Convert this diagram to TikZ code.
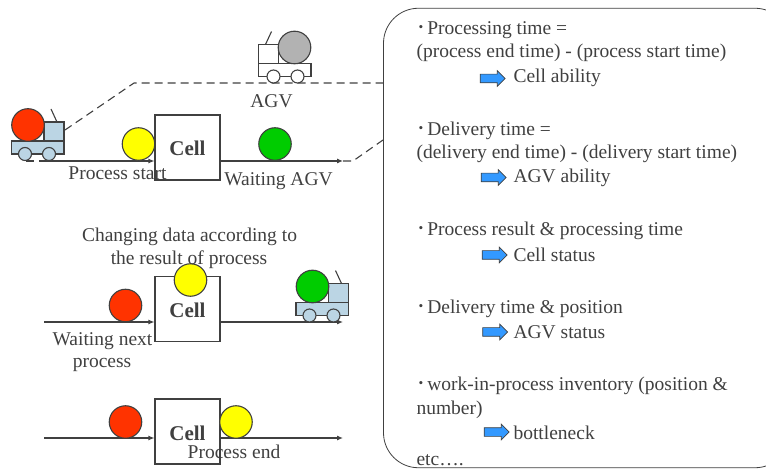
\documentclass[tikz,border=0pt]{standalone}
\usepackage{fontspec}
\setmainfont{Liberation Serif}
\newfontfamily\cjk{Noto Sans CJK JP}
\usepackage{xcolor}
\usetikzlibrary{positioning,shapes.arrows,arrows.meta}
\definecolor{inkgray}{HTML}{404040}
\definecolor{partred}{HTML}{FF3300}
\definecolor{partyellow}{HTML}{FFFF00}
\definecolor{partgreen}{HTML}{00CC00}
\definecolor{emptygray}{HTML}{B2B2B2}
\definecolor{agvblue}{HTML}{BBD5E4}
\definecolor{hintblue}{HTML}{3399FF}
\newcommand{\dotmark}{{\cjk ･}\kern1pt}

\begin{document}
\begin{tikzpicture}[
        x=1pt, y=-1pt,
        >={Latex[length=6pt,width=5pt]},
        line width=1.1pt,
        every node/.style={text=inkgray},
        part/.style={circle, draw=inkgray, minimum size=32.5pt, inner sep=0pt},
        cell/.style={draw=inkgray, fill=white, minimum size=65pt, inner sep=0pt, font=\fontsize{21}{24}\selectfont\bfseries, text height=17pt, text depth=0pt},
        note/.style={anchor=base, inner sep=0pt, font=\fontsize{19.5}{22}\selectfont},
        line/.style={anchor=base west, inner sep=0pt, font=\fontsize{19.5}{22}\selectfont},
        hint/.style={single arrow, draw=inkgray, line width=0.7pt, fill=hintblue, minimum height=25pt, single arrow head extend=3.5pt, inner xsep=0pt, inner ysep=4pt},
        flow/.style={draw=inkgray, ->},
        route/.style={draw=inkgray, dashed, dash pattern=on 8pt off 5pt},
        pics/agv/.style 2 args={code={
            \draw[draw=inkgray, fill=#2] (0,0) rectangle (52.5,-13);
            \draw[draw=inkgray, fill=#2] (32.5,-13) rectangle (52.5,-32);
            \draw[draw=inkgray] (39.5,-45) -- (45.5,-32);
            \draw[draw=inkgray, fill=#1] (16.5,-29) circle (16.3);
            \draw[draw=inkgray, fill=#2] (13.5,0) circle (6.5);
            \draw[draw=inkgray, fill=#2] (37.5,0) circle (6.5);
        }}
      ]
        \path[use as bounding box, clip] (0,0) rectangle (766,470);

        % Panel on the right
        \node[draw=inkgray, line width=0.8pt, fill=white, rounded corners=35pt, minimum width=406.5pt, minimum height=459.5pt, inner sep=0pt] (panel) at (586.75,238) {};

        % Free ends of the routes
        \coordinate (route_a) at (65,130);
        \coordinate (route_b) at (134,83);
        \coordinate (route_c) at (383.5,83);
        \coordinate (route_d) at (343,161);
        \coordinate (route_e) at (353,161);
        \coordinate (route_f) at (383,140);
        \coordinate (route_g) at (26,161);
        \coordinate (route_h) at (44,161);
        \draw[route] (route_a) -- (route_b) -- (route_c);
        \draw[route] (route_d) -- (route_e) -- (route_f);
        \draw[route] (route_g) -- (route_h);

        % Cells
        \node[cell] (cell_start) at (187.5,147.5) {Cell};
        \node[cell] (cell_change) at (187.5,309) {Cell};
        \node[cell] (cell_end) at (187.5,431.5) {Cell};

        % Free ends of the flows
        \coordinate (in_start) at (44,161);
        \coordinate (out_start) at (343,161);
        \coordinate (in_change) at (44,322);
        \coordinate (out_change) at (343,322);
        \coordinate (in_end) at (44,438);
        \coordinate (out_end) at (343,438);

        \draw[flow] (in_start) -- (in_start -| cell_start.west);
        \draw[flow] (out_start -| cell_start.east) -- (out_start);
        \draw[flow] (in_change) -- (in_change -| cell_change.west);
        \draw[flow] (out_change -| cell_change.east) -- (out_change);
        \draw[flow] (in_end) -- (in_end -| cell_end.west);
        \draw[flow] (out_end -| cell_end.east) -- (out_end);

        % Parts on the lines
        \node[part, fill=partyellow] (part_a) at (138.5,144) {};
        \node[part, fill=partgreen] (part_b) at (275,144) {};
        \node[part, fill=partred] (part_c) at (125.5,305.5) {};
        \node[part, fill=partyellow] (part_d) at (190.5,280) {};
        \node[part, fill=partred] (part_e) at (125.5,422) {};
        \node[part, fill=partyellow] (part_f) at (236,422) {};

        % AGVs
        \pic at (11.5,154) {agv={partred}{agvblue}};
        \pic[xscale=-1] at (311,76.5) {agv={emptygray}{white}};
        \pic at (296,315.5) {agv={partgreen}{agvblue}};

        % Labels
        \node[note] (lab_agv) at (271.5,108) {AGV};
        \node[note] (lab_start) at (117.5,179.5) {Process start};
        \node[note] (lab_wait) at (278.5,185.5) {Waiting AGV};
        \node[note] (lab_change) at (189.5,242) {Changing data according to};
        \node[note] (lab_result) at (189,264.5) {the result of process};
        \node[note] (lab_next) at (102.5,345) {Waiting next};
        \node[note] (lab_proc) at (102,368) {process};
        \node[note] (lab_end) at (234,458) {Process end};

        % Text of the panel
        \foreach \i/\y/\t in {1/34.5/{\dotmark Processing time =},
                              2/58/{(process end time) - (process start time)},
                              3/136/{\dotmark Delivery time =},
                              4/159/{(delivery end time) - (delivery start time)},
                              5/236/{\dotmark Process result \& processing time},
                              6/314/{\dotmark Delivery time \& position},
                              7/391/{\dotmark work-in-process inventory (position \&},
                              8/414/{number)},
                              9/465.5/{etc….}}
            \node[line] (line_\i) at (416,\y) {\t};

        \foreach \i/\y/\t in {1/83/{Cell ability},
                              2/183/{AGV ability},
                              3/262/{Cell status},
                              4/339/{AGV status},
                              5/439/{bottleneck}}
            \node[line] (result_\i) at (513,\y) {\t};

        \node[hint] (hint_a) at (490.5,78.5) {};
        \node[hint] (hint_b) at (491.5,177.5) {};
        \node[hint] (hint_c) at (492.5,255) {};
        \node[hint] (hint_d) at (493,332) {};
        \node[hint] (hint_e) at (494.5,432) {};
    \end{tikzpicture}
\end{document}
